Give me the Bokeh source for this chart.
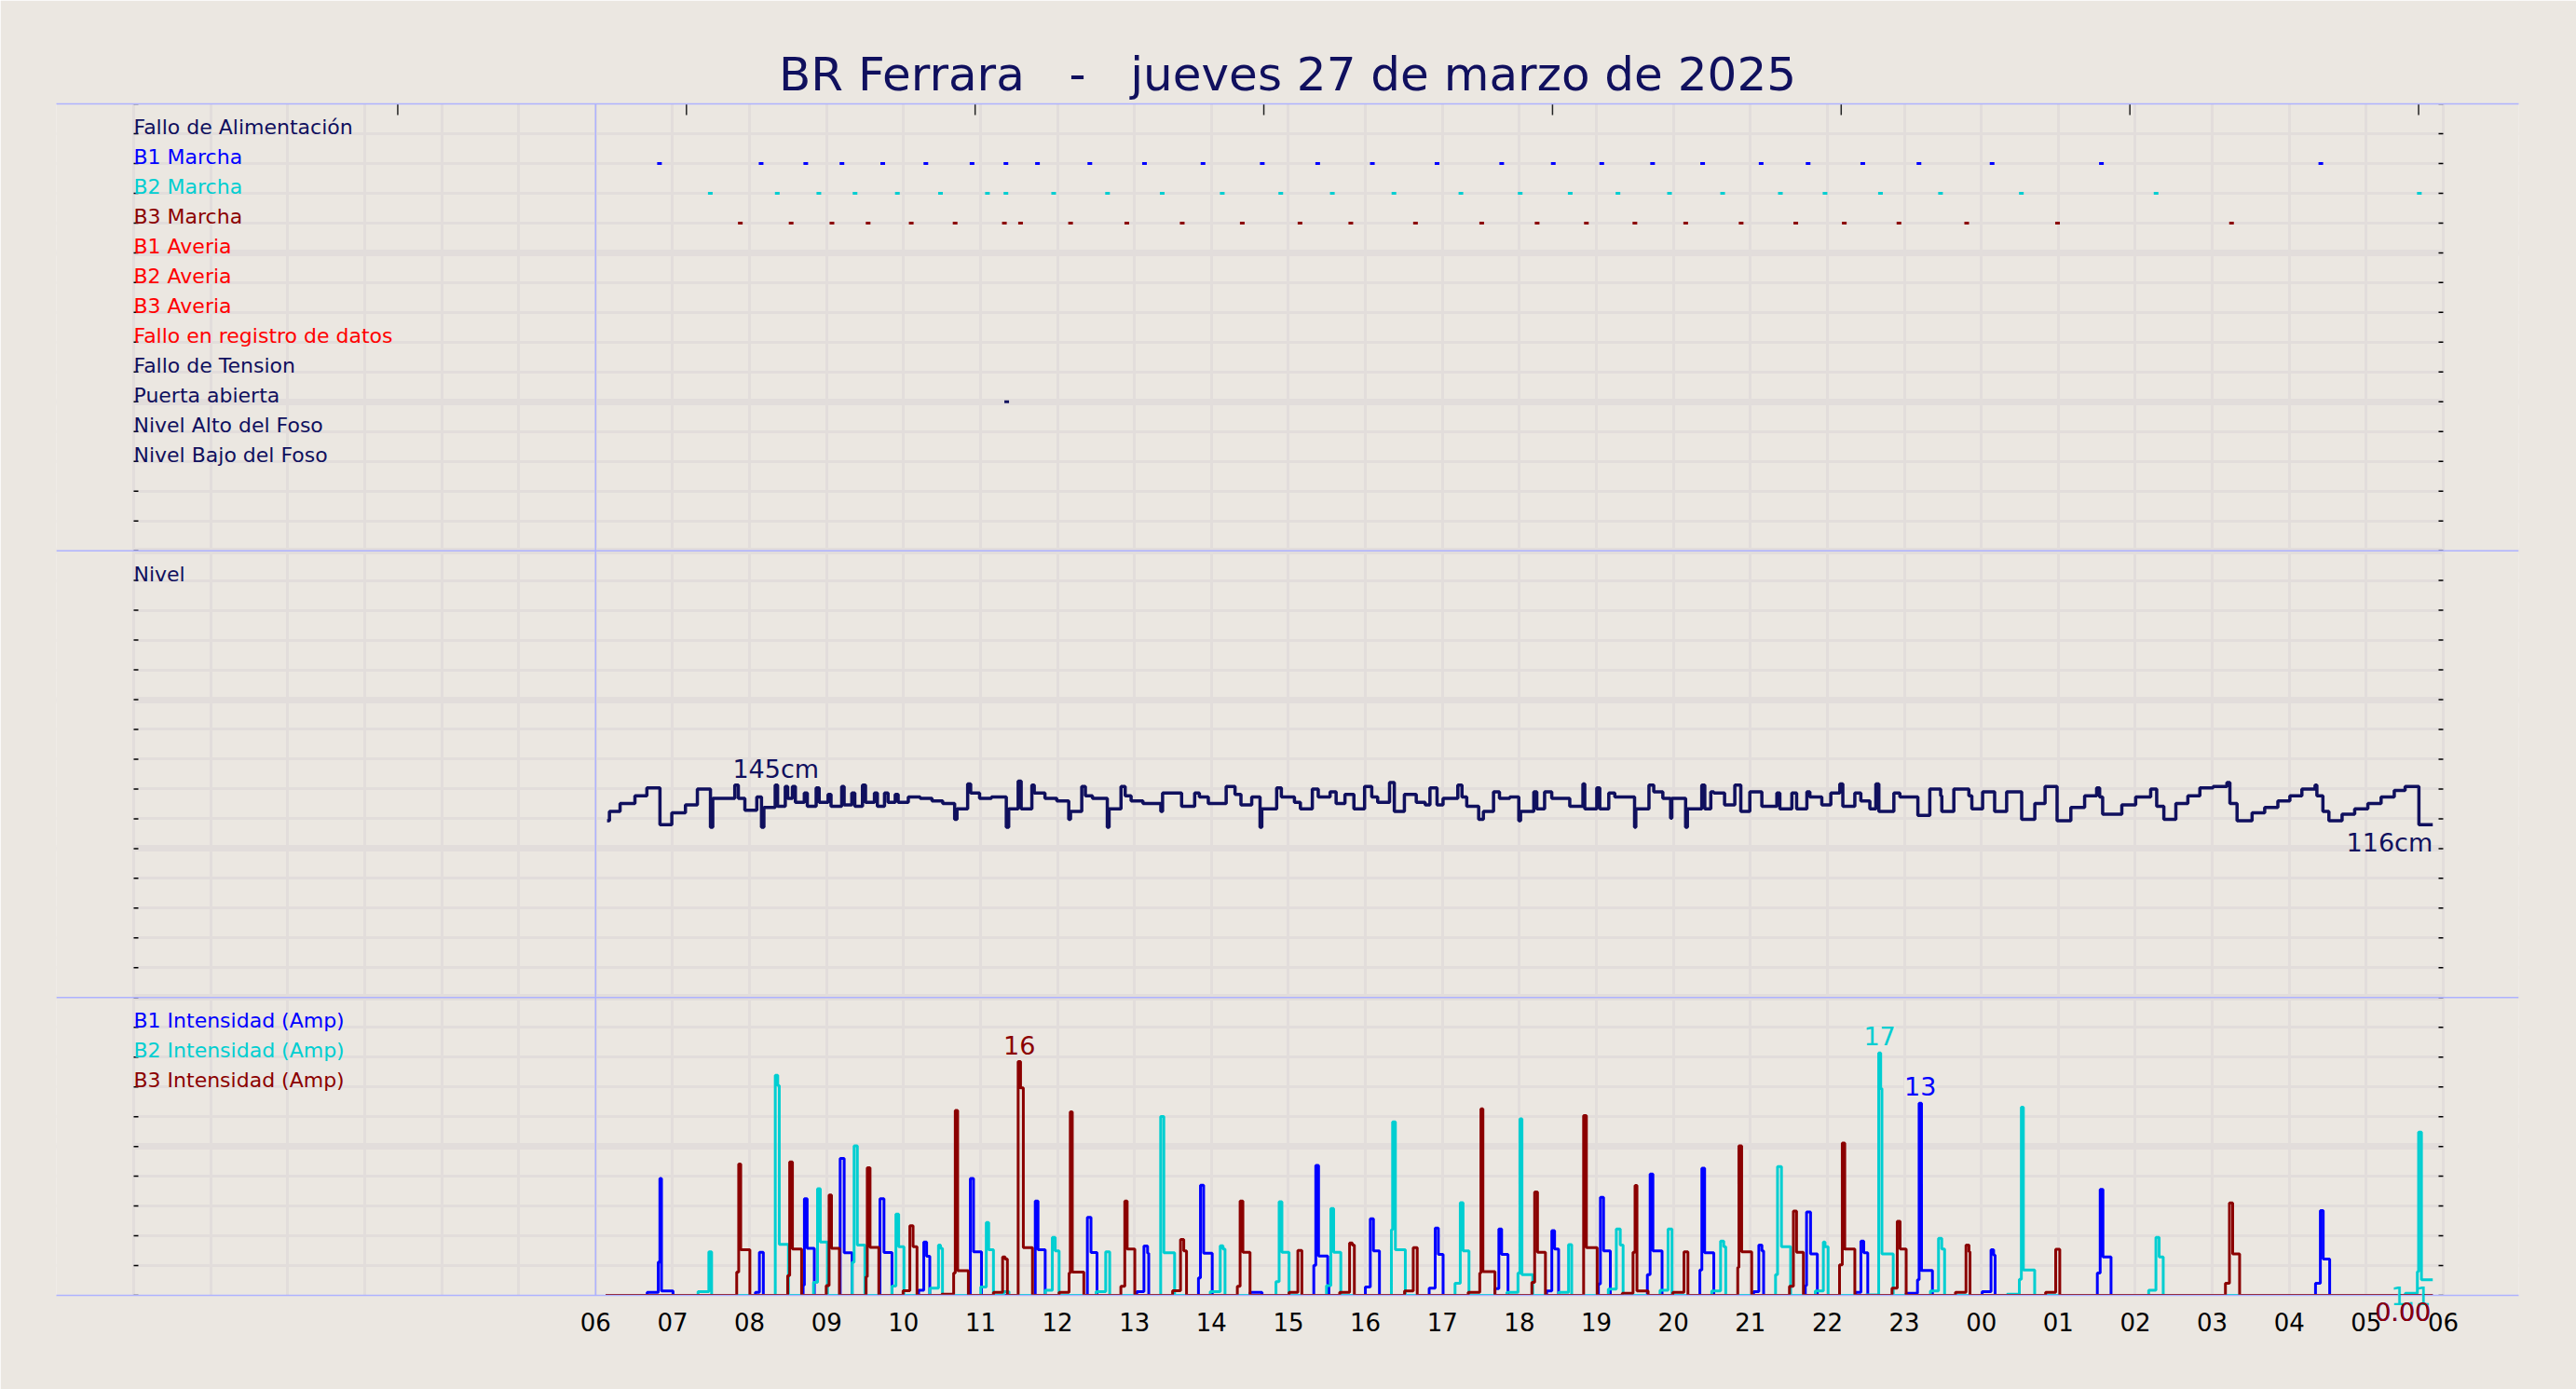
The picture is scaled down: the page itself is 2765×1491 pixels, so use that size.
import math
from bokeh.plotting import figure
from bokeh.models import (Range1d, LinearAxis, FixedTicker, Span, BoxAnnotation,
                          ColumnDataSource, Label, Grid)
from bokeh.core.properties import value
from bokeh.embed import file_html
from bokeh.resources import INLINE

FONT = "DejaVu Sans"
BG = "#ebe7e1"
GRID = "#e2dddb"
SEP = "#aeb2ff"
NAVY = "#10105e"
C_B1 = "#0000ff"
C_B2 = "#00ced1"
C_B3 = "#8b0000"
C_RED = "#ff0000"

titulo = "BR Ferrara\u00a0\u00a0\u00a0-\u00a0\u00a0\u00a0jueves 27 de marzo de 2025"

# eje x: horas desde las 00:00 del 27
horas_ticks = [6, 7, 8, 9, 10, 11, 12, 13, 14, 15, 16, 17, 18, 19, 20, 21, 22, 23,
               24, 25, 26, 27, 28, 29, 30]
horas_etiquetas = ["06", "07", "08", "09", "10", "11", "12", "13", "14", "15", "16", "17",
                   "18", "19", "20", "21", "22", "23", "00", "01", "02", "03", "04", "05", "06"]
marcas_superiores = [3.43, 7.18, 10.93, 14.68, 18.43, 22.18, 25.93, 29.68]

# etiquetas de los paneles (fila = posicion en la rejilla)
etiquetas = ["Fallo de Alimentación", "B1 Marcha", "B2 Marcha", "B3 Marcha", "B1 Averia",
             "B2 Averia", "B3 Averia", "Fallo en registro de datos", "Fallo de Tension",
             "Puerta abierta", "Nivel Alto del Foso", "Nivel Bajo del Foso",
             "Nivel",
             "B1 Intensidad (Amp)", "B2 Intensidad (Amp)", "B3 Intensidad (Amp)"]
etiquetas_fila = [39, 38, 37, 36, 35, 34, 33, 32, 31, 30, 29, 28, 24, 9, 8, 7]
etiquetas_color = [NAVY, C_B1, C_B2, C_B3, C_RED, C_RED, C_RED, C_RED, NAVY, NAVY, NAVY, NAVY,
                   NAVY, C_B1, C_B2, C_B3]

# eventos (hora)
b1_marcha = [6.83, 8.15, 8.73, 9.20, 9.73, 10.29, 10.89, 11.33, 11.74, 12.42, 13.13, 13.89,
             14.66, 15.38, 16.09, 16.93, 17.77, 18.44, 19.07, 19.73, 20.38, 21.14, 21.75,
             22.46, 23.19, 24.14, 25.56, 28.41]
b2_marcha = [7.49, 8.36, 8.90, 9.37, 9.92, 10.48, 11.09, 11.33, 11.95, 12.65, 13.36, 14.14,
             14.90, 15.57, 16.37, 17.24, 18.01, 18.66, 19.28, 19.95, 20.64, 21.39, 21.97,
             22.69, 23.47, 24.52, 26.27, 29.69]
b3_marcha = [7.88, 8.54, 9.07, 9.54, 10.10, 10.67, 11.31, 11.52, 12.17, 12.90, 13.62, 14.40,
             15.15, 15.81, 16.65, 17.51, 18.23, 18.87, 19.50, 20.16, 20.88, 21.59, 22.22,
             22.93, 23.81, 24.99, 27.25]
puerta_abierta = [11.34]

# nivel (cm)
nivel_t = [6.149, 6.180, 6.318, 6.511, 6.666, 6.836, 6.990, 7.167, 7.322, 7.492,
           7.522, 7.808, 7.854, 7.939, 8.094, 8.155, 8.186, 8.333, 8.364, 8.464,
           8.495, 8.557, 8.595, 8.711, 8.750, 8.865, 8.904, 9.020, 9.058, 9.197,
           9.228, 9.328, 9.367, 9.467, 9.506, 9.622, 9.660, 9.753, 9.799, 9.892,
           9.930, 10.062, 10.216, 10.370, 10.509, 10.664, 10.694, 10.833, 10.872, 10.988,
           11.142, 11.335, 11.366, 11.489, 11.528, 11.667, 11.698, 11.837, 11.991, 12.146,
           12.169, 12.315, 12.362, 12.454, 12.647, 12.670, 12.825, 12.879, 12.956, 13.110,
           13.342, 13.365, 13.612, 13.782, 13.843, 13.959, 14.191, 14.306, 14.383, 14.523,
           14.631, 14.654, 14.847, 14.908, 15.078, 15.155, 15.310, 15.387, 15.541, 15.619,
           15.734, 15.850, 15.989, 16.082, 16.159, 16.313, 16.375, 16.506, 16.660, 16.776,
           16.838, 16.930, 17.008, 17.200, 17.254, 17.316, 17.471, 17.532, 17.664, 17.741,
           17.875, 17.992, 18.015, 18.187, 18.226, 18.327, 18.420, 18.654, 18.825, 18.849,
           19.005, 19.044, 19.161, 19.239, 19.496, 19.512, 19.683, 19.745, 19.863, 19.964,
           19.980, 20.159, 20.182, 20.369, 20.408, 20.486, 20.525, 20.665, 20.798, 20.876,
           20.993, 21.149, 21.344, 21.383, 21.539, 21.601, 21.734, 21.773, 21.928, 22.045,
           22.162, 22.201, 22.357, 22.435, 22.552, 22.630, 22.669, 22.864, 22.942, 23.176,
           23.331, 23.472, 23.487, 23.643, 23.838, 23.877, 24.017, 24.173, 24.329, 24.524,
           24.695, 24.828, 24.984, 25.163, 25.342, 25.498, 25.537, 25.576, 25.825, 26.005,
           26.200, 26.278, 26.371, 26.527, 26.683, 26.839, 27.011, 27.190, 27.229, 27.322,
           27.517, 27.681, 27.852, 28.008, 28.164, 28.335, 28.359, 28.437, 28.515, 28.686,
           28.850, 29.021, 29.193, 29.364, 29.505, 29.684, 29.864]
nivel_cm = [119, 126, 132, 138, 144, 116, 125, 131, 143, 114,
            136, 146, 136, 127, 137, 114, 129, 146, 130, 145,
            136, 145, 133, 140, 130, 144, 133, 139, 130, 145,
            131, 140, 130, 146, 133, 140, 130, 140, 133, 139,
            133, 137, 136, 134, 132, 120, 128, 147, 140, 136,
            137, 114, 128, 149, 128, 146, 140, 136, 134, 120,
            126, 145, 138, 136, 114, 128, 145, 138, 134, 132,
            126, 140, 130, 140, 137, 132, 145, 139, 131, 137,
            114, 128, 144, 137, 133, 128, 143, 137, 141, 132,
            139, 128, 145, 137, 133, 148, 126, 139, 133, 131,
            144, 131, 136, 146, 137, 130, 120, 126, 141, 136,
            137, 119, 126, 141, 128, 141, 136, 130, 147, 128,
            144, 128, 140, 137, 114, 128, 146, 141, 136, 121,
            136, 114, 128, 146, 128, 141, 140, 131, 146, 126,
            141, 130, 140, 128, 140, 128, 141, 137, 131, 140,
            147, 130, 140, 134, 128, 147, 126, 140, 137, 123,
            143, 138, 126, 143, 138, 128, 141, 126, 141, 120,
            132, 145, 119, 129, 138, 144, 137, 124, 131, 137,
            143, 130, 120, 132, 138, 144, 145, 148, 132, 119,
            125, 129, 134, 138, 143, 146, 138, 126, 119, 124,
            128, 132, 137, 142, 145, 116, 116]
nivel_etiq_t = [7.78, 29.864]
nivel_etiq_v = [145, 116]
nivel_etiq = ["145cm", "116cm"]

# intensidades (A), escalones
b1_t = [6.13,
        6.670, 6.814, 6.835, 6.856, 7.006,
        8.076, 8.128, 8.179,
        8.696, 8.712, 8.748, 8.841,
        9.177, 9.229, 9.332,
        9.694, 9.746, 9.850,
        10.196, 10.263, 10.300, 10.341,
        10.868, 10.909, 11.013,
        11.711, 11.747, 11.840,
        12.388, 12.435, 12.513,
        13.030, 13.123, 13.170, 13.185,
        13.831, 13.857, 13.898, 14.010,
        14.501, 14.657,
        15.329, 15.355, 15.391, 15.510, 15.525,
        15.999, 16.063, 16.104, 16.182,
        16.828, 16.906, 16.947, 17.009,
        17.682, 17.733, 17.769, 17.852,
        18.354, 18.421, 18.457, 18.509,
        19.026, 19.052, 19.093, 19.181,
        19.662, 19.698, 19.734, 19.853,
        20.344, 20.370, 20.406, 20.525,
        21.042, 21.110, 21.150, 21.172,
        21.714, 21.730, 21.782, 21.870,
        22.368, 22.436, 22.473, 22.525,
        23.024, 23.171, 23.192, 23.223, 23.365,
        24.011, 24.126, 24.160, 24.179,
        25.507, 25.544, 25.580, 25.685,
        28.341, 28.404, 28.441, 28.525,
        29.864]
b1_a = [0,
        0.21, 2.3, 8.05, 0.3, 0,
        0.21, 2.97, 0,
        0.7, 6.66, 3.25, 0,
        9.44, 2.93, 0,
        6.66, 2.95, 0,
        0.36, 3.67, 2.7, 0,
        8.05, 3.0, 0,
        6.5, 3.14, 0,
        5.38, 2.95, 0,
        0.25, 3.4, 2.9, 0,
        1.2, 7.6, 2.9, 0,
        0.21, 0,
        2.07, 8.95, 2.71, 0.79, 0,
        0.58, 5.28, 3.07, 0,
        0.5, 4.64, 2.82, 0,
        0.47, 4.57, 2.82, 0,
        0.3, 4.46, 3.2, 0,
        0.79, 6.75, 3.07, 0,
        1.43, 8.37, 3.07, 0,
        1.75, 8.76, 2.93, 0,
        0.25, 3.46, 3.07, 0,
        0.68, 5.75, 2.86, 0,
        0.21, 3.74, 2.93, 0,
        0.15, 1.07, 13.25, 1.71, 0,
        0.25, 3.14, 2.78, 0,
        1.54, 7.31, 2.65, 0,
        0.83, 5.85, 2.5, 0,
        0]
b2_t = [6.13,
        7.331, 7.471, 7.507,
        8.334, 8.366, 8.386, 8.505,
        8.831, 8.883, 8.919, 9.012,
        9.333, 9.358, 9.400, 9.498,
        9.850, 9.901, 9.937, 10.005,
        10.341, 10.454, 10.480, 10.506,
        11.003, 11.075, 11.106, 11.168,
        11.300, 11.370,
        11.840, 11.933, 11.970, 12.021,
        12.502, 12.626, 12.678,
        13.340, 13.381, 13.521,
        13.984, 14.114, 14.150, 14.176,
        14.838, 14.879, 14.915, 15.008,
        15.494, 15.551, 15.587, 15.680,
        16.337, 16.353, 16.389, 16.518,
        17.164, 17.232, 17.268, 17.345,
        17.837, 17.981, 18.007, 18.033, 18.173,
        18.509, 18.638, 18.679,
        19.155, 19.259, 19.310, 19.347,
        19.827, 19.931, 19.982,
        20.499, 20.613, 20.654, 20.680,
        21.327, 21.353, 21.404, 21.523,
        21.844, 21.948, 21.970, 22.010,
        22.499, 22.667, 22.693, 22.709, 22.856,
        23.339, 23.444, 23.486, 23.523,
        24.336, 24.494, 24.520, 24.546, 24.693,
        26.174, 26.268, 26.310, 26.363,
        29.507, 29.664, 29.680, 29.717, 29.864]
b2_a = [0,
        0.26, 3.0, 0,
        15.17, 14.46, 3.52, 0,
        0.9, 7.35, 3.67, 0,
        2.28, 10.3, 3.46, 0,
        0.64, 5.6, 3.35, 0,
        0.5, 3.46, 3.25, 0,
        0.58, 5.02, 3.14, 0,
        0.25, 0,
        0.36, 4.0, 3.07, 0,
        0.25, 3.0, 0,
        12.33, 2.93, 0,
        0.25, 3.42, 3.2, 0,
        0.94, 6.45, 2.97, 0,
        0.68, 5.98, 2.97, 0,
        4.53, 11.96, 3.14, 0,
        0.83, 6.39, 3.07, 0,
        0.21, 1.54, 12.16, 1.43, 0,
        0.21, 3.5, 0,
        0.43, 4.57, 3.46, 0,
        0.36, 4.57, 0,
        0.3, 3.74, 3.35, 0,
        1.43, 8.87, 3.35, 0,
        0.3, 3.67, 3.35, 0,
        0.04, 16.71, 14.25, 2.86, 0,
        0.3, 3.93, 3.2, 0,
        0.08, 1.11, 12.97, 1.75, 0,
        0.36, 4.0, 2.65, 0,
        0.15, 1.64, 11.26, 1.07, 1.07]
b3_t = [6.13,
        7.833, 7.859, 7.885, 8.004,
        8.495, 8.521, 8.557, 8.676,
        8.996, 9.033, 9.064, 9.167,
        9.514, 9.529, 9.565, 9.679,
        9.994, 10.082, 10.124, 10.175,
        10.496, 10.651, 10.672, 10.703, 10.842,
        11.168, 11.287, 11.320, 11.349,
        11.489, 11.520, 11.556, 11.675,
        12.021, 12.150, 12.166, 12.192, 12.342,
        12.823, 12.874, 12.905, 13.004,
        13.495, 13.598, 13.640, 13.676,
        14.336, 14.372, 14.408, 14.501,
        15.008, 15.122, 15.174,
        15.665, 15.794, 15.830, 15.856,
        16.508, 16.621, 16.673,
        17.335, 17.485, 17.500, 17.526, 17.682,
        18.162, 18.198, 18.235, 18.338,
        18.834, 18.870, 19.010,
        19.336, 19.476, 19.502, 19.527, 19.672,
        19.993, 20.138, 20.189,
        20.836, 20.851, 20.887, 21.017,
        21.508, 21.559, 21.600, 21.689,
        22.158, 22.194, 22.226, 22.357,
        22.840, 22.908, 22.945, 23.024,
        23.664, 23.801, 23.840, 23.853,
        24.835, 24.966, 25.019,
        27.171, 27.223, 27.265, 27.355,
        29.864]
b3_a = [0,
        1.6, 9.06, 3.14, 0,
        1.37, 9.19, 3.2, 0,
        0.68, 6.92, 3.25, 0,
        1.28, 8.8, 3.31, 0,
        0.32, 4.8, 3.35, 0,
        0.08, 1.54, 12.75, 1.7, 0,
        0.21, 2.65, 2.5, 0,
        16.11, 14.3, 3.29, 0,
        0.21, 1.54, 12.65, 1.6, 0,
        0.62, 6.5, 3.2, 0,
        0.32, 3.85, 3.07, 0,
        0.62, 6.5, 2.97, 0,
        0.21, 3.1, 0,
        0.21, 3.61, 3.46, 0,
        0.3, 3.29, 0,
        0.21, 1.54, 12.86, 1.64, 0,
        0.9, 7.13, 2.97, 0,
        12.39, 3.29, 0,
        0.15, 2.97, 7.58, 0.3, 0,
        0.21, 3.0, 0,
        1.92, 10.3, 3.0, 0,
        0.62, 5.81, 2.97, 0,
        2.11, 10.49, 3.2, 0,
        0.5, 5.1, 3.2, 0,
        0.21, 3.46, 3.0, 0,
        0.21, 3.18, 0,
        0.83, 6.37, 2.86, 0,
        0]
etiquetas_finales = ["0.00", "1.1", "0.00"]

assert len(b1_t) == len(b1_a) and len(b2_t) == len(b2_a) and len(b3_t) == len(b3_a)
assert len(nivel_t) == len(nivel_cm)

# ---------------------------------------------------------------- figura
p = figure(width=2765, height=1491, output_backend="svg", toolbar_location=None,
           x_range=Range1d(-1.0044, 30.9804), y_range=Range1d(0, 40),
           x_axis_location=None, y_axis_location=None,
           min_border_left=60, min_border_right=62, min_border_top=111, min_border_bottom=99,
           background_fill_color=BG, border_fill_color=BG, outline_line_color=None)
p.extra_y_ranges = {"cm": Range1d(-241.9, 664.0), "amp": Range1d(0, 82.12)}
p.xgrid.visible = False
p.ygrid.visible = False

p.title.text = titulo
p.title.align = "center"
p.title.text_font = FONT
p.title.text_font_size = "50px"
p.title.text_font_style = "normal"
p.title.text_color = NAVY
p.title.standoff = 6

filas = list(range(41))
gx = Grid(dimension=0, ticker=FixedTicker(ticks=list(range(31))),
          grid_line_color=GRID, grid_line_width=3)
gy = Grid(dimension=1, ticker=FixedTicker(ticks=[0, 5, 10, 15, 20, 25, 30, 35, 40], minor_ticks=filas),
          grid_line_color=GRID, grid_line_width=7,
          minor_grid_line_color=GRID, minor_grid_line_width=3)
p.add_layout(gx)
p.add_layout(gy)
p.add_layout(BoxAnnotation(right=-0.02, fill_color=BG, fill_alpha=1, line_color=None, level="underlay"))
p.add_layout(BoxAnnotation(left=30.02, fill_color=BG, fill_alpha=1, line_color=None, level="underlay"))

ax_top = LinearAxis(ticker=FixedTicker(ticks=[]), axis_line_color=SEP, axis_line_width=1.5,
                    major_tick_line_color=None, minor_tick_line_color=None)
p.add_layout(ax_top, "above")
ax_bot = LinearAxis(ticker=FixedTicker(ticks=horas_ticks),
                    major_label_overrides=dict(zip(horas_ticks, horas_etiquetas)),
                    axis_line_color=SEP, axis_line_width=1.5,
                    major_tick_line_color=None, minor_tick_line_color=None,
                    major_label_text_font=FONT, major_label_text_font_size="26px",
                    major_label_text_color="black", major_label_standoff=12)
p.add_layout(ax_bot, "below")

for loc in (25, 10):
    p.add_layout(Span(location=loc, dimension="width", line_color=SEP, line_width=1.5))
p.add_layout(Span(location=6, dimension="height", line_color=SEP, line_width=1.5))

# marcas de eje interiores
p.ray(x=[0] * len(filas), y=filas, length=5, length_units="screen", angle=0,
      line_color="black", line_width=1.5)
p.ray(x=[30] * len(filas), y=filas, length=5, length_units="screen", angle=math.pi,
      line_color="black", line_width=1.5)
p.ray(x=marcas_superiores, y=[40] * len(marcas_superiores), length=12, length_units="screen",
      angle=-math.pi / 2, line_color="#222222", line_width=1.5)

# etiquetas de filas
src_lab = ColumnDataSource(dict(x=[0] * len(etiquetas), y=etiquetas_fila, t=etiquetas, c=etiquetas_color))
p.text(x="x", y="y", text="t", text_color="c", source=src_lab, text_font=value(FONT),
       text_font_size="22px", text_baseline="alphabetic", text_align="left", y_offset=-7)

# eventos de marcha
for ev, fila, col in ((b1_marcha, etiquetas_fila[1], C_B1), (b2_marcha, etiquetas_fila[2], C_B2),
                      (b3_marcha, etiquetas_fila[3], C_B3), (puerta_abierta, etiquetas_fila[9], NAVY)):
    p.rect(x=ev, y=[fila] * len(ev), width=5, height=3, width_units="screen",
           height_units="screen", fill_color=col, line_color=None)

# nivel
p.step(nivel_t, nivel_cm, mode="after", y_range_name="cm", line_color=NAVY, line_width=3.5)
p.text(x=nivel_etiq_t[:1], y=nivel_etiq_v[:1], text=nivel_etiq[:1], y_range_name="cm",
       text_font=value(FONT), text_font_size="27px", text_color=NAVY,
       text_align="left", text_baseline="alphabetic", y_offset=-19)
p.text(x=nivel_etiq_t[1:], y=nivel_etiq_v[1:], text=nivel_etiq[1:], y_range_name="cm",
       text_font=value(FONT), text_font_size="27px", text_color=NAVY,
       text_align="right", text_baseline="top", y_offset=4)

# intensidades
series = [(b1_t, b1_a, C_B1), (b2_t, b2_a, C_B2), (b3_t, b3_a, C_B3)]
for ts, vs, col in series:
    p.step(ts, vs, mode="after", y_range_name="amp", line_color=col, line_width=3)

for ts, vs, col in series:
    i = max(range(len(vs)), key=vs.__getitem__)
    p.text(x=[(ts[i] + ts[i + 1]) / 2], y=[vs[i]], text=["%d" % round(vs[i])], y_range_name="amp",
           text_font=value(FONT), text_font_size="27px", text_color=col,
           text_align="center", text_baseline="alphabetic", y_offset=-18,
           background_fill_color=BG, background_fill_alpha=1.0)

# ultimo valor de cada intensidad (fuera del marco, bajo el eje)
for k, (ts, vs, col) in enumerate(series):
    p.add_layout(Label(x=ts[-1], y=vs[-1], text=etiquetas_finales[k], y_range_name="amp",
                       text_font=FONT, text_font_size="27px", text_color=col,
                       text_align="right", text_baseline="top", y_offset=-7, x_offset=-2),
                 "below")

open("out.html", "w").write(file_html(p, INLINE))
